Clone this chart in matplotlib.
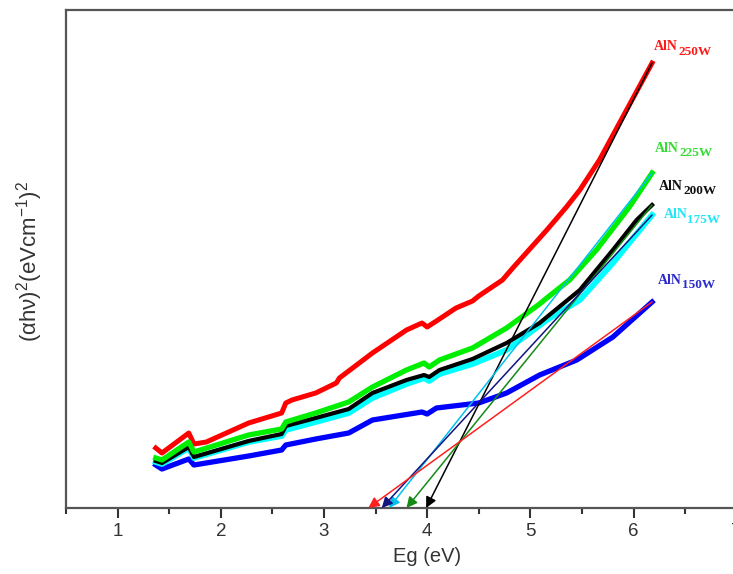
import matplotlib
matplotlib.use('Agg')
import matplotlib.pyplot as plt
from matplotlib.ticker import MultipleLocator

plt.rcParams['font.family'] = ['Liberation Sans', 'DejaVu Sans']
plt.rcParams['mathtext.fontset'] = 'custom'
plt.rcParams['mathtext.rm'] = 'Liberation Sans'
plt.rcParams['mathtext.it'] = 'Liberation Sans:italic'
plt.rcParams['mathtext.bf'] = 'Liberation Sans:bold'

# Tauc curves, (x in eV, y arbitrary units)
x_250 = [1.37, 1.43, 1.69, 1.74, 1.86, 2.27, 2.59, 2.63, 2.69, 2.92, 3.12, 3.15, 3.47,
         3.80, 3.95, 4.00, 4.09, 4.28, 4.44, 4.50, 4.73, 4.83, 5.16, 5.35, 5.48, 5.67, 6.18]
y_250 = [0.60, 0.55, 0.75, 0.64, 0.66, 0.85, 0.95, 1.05, 1.08, 1.15, 1.25, 1.30, 1.55,
         1.78, 1.85, 1.81, 1.87, 2.00, 2.07, 2.12, 2.28, 2.40, 2.78, 3.01, 3.18, 3.48, 4.45]

x_225 = [1.37, 1.43, 1.69, 1.74, 2.27, 2.59, 2.63, 2.92, 3.24, 3.47, 3.80, 3.97, 4.02,
         4.12, 4.44, 4.77, 5.09, 5.16, 5.38, 5.64, 5.96, 6.18]
y_225 = [0.50, 0.48, 0.66, 0.56, 0.73, 0.79, 0.86, 0.95, 1.06, 1.21, 1.38, 1.45, 1.41,
         1.48, 1.60, 1.80, 2.04, 2.10, 2.28, 2.58, 3.01, 3.35]

x_200 = [1.37, 1.43, 1.69, 1.74, 2.27, 2.59, 2.63, 2.92, 3.24, 3.47, 3.80, 3.97, 4.02,
         4.12, 4.44, 4.77, 5.09, 5.16, 5.48, 5.80, 6.03, 6.18]
y_200 = [0.47, 0.45, 0.61, 0.51, 0.67, 0.74, 0.82, 0.90, 0.99, 1.15, 1.28, 1.33, 1.31,
         1.38, 1.49, 1.65, 1.85, 1.91, 2.18, 2.58, 2.88, 3.03]

x_175 = [1.37, 1.43, 1.69, 1.74, 2.27, 2.59, 2.63, 2.92, 3.24, 3.47, 3.80, 3.97, 4.02,
         4.12, 4.44, 4.77, 5.16, 5.48, 5.80, 6.18]
y_175 = [0.46, 0.44, 0.60, 0.50, 0.66, 0.72, 0.78, 0.86, 0.95, 1.10, 1.24, 1.30, 1.27,
         1.34, 1.44, 1.58, 1.88, 2.08, 2.45, 2.93]

x_150 = [1.37, 1.43, 1.69, 1.74, 2.27, 2.59, 2.63, 2.92, 3.24, 3.47, 3.95, 4.00, 4.09,
         4.50, 4.77, 5.09, 5.45, 5.80, 6.18]
y_150 = [0.43, 0.39, 0.49, 0.43, 0.52, 0.58, 0.63, 0.69, 0.75, 0.88, 0.96, 0.94, 1.00,
         1.05, 1.15, 1.33, 1.48, 1.71, 2.06]

# linear fits: (start x, start y, band gap)
fit_250 = (6.18, 4.45, 3.99)
fit_225 = (6.18, 3.35, 3.63)
fit_200 = (6.18, 3.03, 3.80)
fit_175 = (6.18, 2.93, 3.56)
fit_150 = (6.18, 2.06, 3.43)

labels = ['250W', '225W', '200W', '175W', '150W']
label_pos = [(6.20, 4.61), (6.21, 3.60), (6.25, 3.22), (6.29, 2.93), (6.24, 2.28)]
label_colors = ['#ff1a1a', '#33dd33', '#111111', '#22e6f5', '#2a2ad0']

fig = plt.figure(figsize=(7.33, 5.74), dpi=100)
ax = fig.add_axes([66 / 733, 66 / 574, 681 / 733, 498 / 574])

ax.plot(x_150, y_150, color='#0000ff', lw=3.8, zorder=2)
ax.plot(x_250, y_250, color='#ff0000', lw=3.6, zorder=2)
ax.plot(x_175, y_175, color='#00ffff', lw=4.2, zorder=2)
ax.plot(x_200, y_200, color='black', lw=3.0, zorder=3)
ax.plot(x_225, y_225, color='#00ee00', lw=3.8, zorder=3)

# fitted lines with arrows down to the x axis
fits = [(fit_250, 'black'), (fit_225, '#00c0f0'), (fit_200, '#158a15'),
        (fit_175, '#141480'), (fit_150, '#ff2020')]
for (x0, y0, eg), c in fits:
    ax.annotate('', xy=(eg, 0), xytext=(x0, y0),
                arrowprops=dict(arrowstyle='-|>', color=c, lw=1.1,
                                mutation_scale=16, shrinkA=0, shrinkB=0),
                zorder=4)

# AlN labels, subscript nearly full size like the original
for lab, (lx, ly), c in zip(labels, label_pos, label_colors):
    t = ax.text(lx, ly, 'AlN', color=c, fontsize=10, fontweight='bold',
                family='Liberation Serif', ha='left', va='center')
    ax.annotate(lab, xy=(1, 0), xycoords=t, xytext=(0, 1),
                textcoords='offset points', color=c, fontsize=9.5,
                fontweight='bold', family='Liberation Serif',
                ha='left', va='center')

ax.set_xlim(0.5, 7.1)
ax.set_ylim(0, 4.98)
ax.xaxis.set_major_locator(MultipleLocator(1))
ax.xaxis.set_minor_locator(MultipleLocator(0.5))
ax.set_yticks([])
ax.tick_params(axis='x', which='major', direction='out', length=7, width=1.5,
               labelsize=13.5, colors='#333333', pad=3.5)
ax.tick_params(axis='x', which='minor', direction='out', length=4, width=1.5,
               colors='#333333')
for s in ['left', 'bottom', 'top']:
    ax.spines[s].set_linewidth(1.6)
    ax.spines[s].set_color('#555555')
ax.spines['right'].set_visible(False)

ax.set_xlabel('Eg (eV)', fontsize=14.5, color='#333333')
ax.xaxis.set_label_coords((427 - 66) / 681, -0.078)
fig.text(30 / 733, 1 - 262 / 574, r'(αhν)$^2$(eVcm$^{-1}$)$^2$', rotation=90,
         ha='center', va='center', fontsize=16, color='#333333')

fig.savefig('out.png', dpi=100)
